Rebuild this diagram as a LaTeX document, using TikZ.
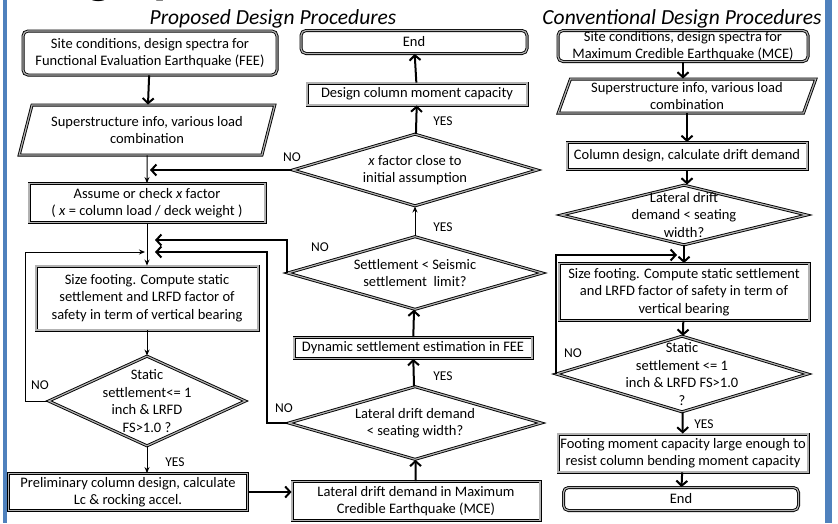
\documentclass[tikz,border=0pt]{standalone}
\usepackage{fontspec}
\setmainfont{Carlito}
\usetikzlibrary{shapes.geometric,arrows.meta}

\definecolor{slideblue}{RGB}{79,129,189}

\tikzset{every picture/.style={line width=0.75pt}}
\tikzset{
  proc/.style={draw, line width=0.9pt, double=gray!60, double distance=1.2pt, fill=white,
    align=center, inner sep=1pt, font=\fontsize{14.5}{17.5}\selectfont},
  term/.style={proc, rounded corners=5pt},
  iobox/.style={proc, trapezium, trapezium left angle=70, trapezium right angle=110, trapezium stretches=true},
  decide/.style={proc, diamond, inner sep=0pt},
  dtext/.style={align=center, font=\fontsize{14.5}{17.5}\selectfont, inner sep=0pt},
  bigflow/.style={line width=2pt, -{Straight Barb[length=5pt,width=11pt]}},
  thinflow/.style={line width=1pt, -{Stealth[length=6pt,width=5pt]}},
  yesno/.style={font=\fontsize{13.5}{15}\selectfont, inner sep=0pt},
  heading/.style={font=\fontsize{21.5}{24}\selectfont\itshape, inner sep=0pt}
}

\begin{document}
\begin{tikzpicture}[x=1pt,y=1pt,yscale=-1,xscale=1]
  \useasboundingbox (0,0) rectangle (838,523);
  %slide edges
  \fill[slideblue] (3,0) rectangle (7,523);
  \fill[slideblue] (825,0) rectangle (832,523);
  \begin{scope}
    \clip (0,0) rectangle (838,523);
    \node[anchor=base west, inner sep=0pt, font=\fontsize{54}{56}\selectfont\bfseries] (title) at (-10,-8) {Design procedures};
  \end{scope}

  \node[heading] (hprop) at (273,19) {Proposed Design Procedures};
  \node[heading] (hconv) at (682,19) {Conventional Design Procedures};

  %Proposed: left column
  \node[term, minimum width=254pt, minimum height=44pt] (site1) at (150,53) {Site conditions, design spectra for\\Functional Evaluation Earthquake (FEE)};
  \node[iobox, minimum width=256pt, minimum height=50pt] (super1) at (147,130) {Superstructure info, various load\\combination};
  \node[proc, minimum width=236pt, minimum height=39pt] (assume) at (147,203) {Assume or check \textit{x} factor\\( \textit{x} = column load / deck weight )};
  \node[proc, minimum width=222pt, minimum height=64pt] (size1) at (147,298) {Size footing. Compute static\\settlement and LRFD factor of\\safety in term of vertical bearing};
  \node[decide, minimum width=197pt, minimum height=90pt,
    label={[dtext]center:Static\\settlement<= 1\\inch \& LRFD\\FS>1.0 ?}] (static1) at (147,401) {};
  \node[proc, minimum width=239pt, minimum height=37pt] (prelim) at (128,492) {Preliminary column design, calculate\\Lc \& rocking accel.};

  %Proposed: middle column
  \node[term, minimum width=226pt, minimum height=23pt] (end1) at (414,42) {End};
  \node[proc, minimum width=220pt, minimum height=22pt] (design) at (417,94) {Design column moment capacity};
  \node[decide, minimum width=245pt, minimum height=72pt,
    label={[dtext]center:\textit{x} factor close to\\initial assumption}] (xfac) at (415,170) {};
  \node[decide, minimum width=255pt, minimum height=73pt,
    label={[dtext]center:Settlement < Seismic\\settlement\ \ limit?}] (settle) at (415,273) {};
  \node[proc, minimum width=238pt, minimum height=21pt] (dyn) at (413,348) {Dynamic settlement estimation in FEE};
  \node[decide, minimum width=253pt, minimum height=73pt,
    label={[dtext]center:Lateral drift demand\\< seating width?}] (lat) at (415,423) {};
  \node[proc, minimum width=248pt, minimum height=39pt] (latmce) at (416,501) {Lateral drift demand in Maximum\\Credible Earthquake (MCE)};

  %Conventional: right column
  \node[term, minimum width=250pt, minimum height=31pt, inner sep=0pt] (site2) at (683,46) {Site conditions, design spectra for\\Maximum Credible Earthquake (MCE)};
  \node[iobox, minimum width=258pt, minimum height=34pt, inner sep=0pt] (super2) at (687,96) {Superstructure info, various load\\combination};
  \node[proc, minimum width=240pt, minimum height=27pt] (coldes) at (687,156) {Column design, calculate drift demand};
  \node[decide, minimum width=246pt, minimum height=60pt,
    label={[dtext]center:Lateral drift\\demand < seating\\width?}] (lat2) at (684,215) {};
  \node[proc, minimum width=250pt, minimum height=57pt, inner sep=0pt] (size2) at (684,292) {Size footing. Compute static settlement\\and LRFD factor of safety in term of\\vertical bearing};
  \node[decide, minimum width=252pt, minimum height=76pt,
    label={[dtext]center:Static\\settlement <= 1\\inch \& LRFD FS>1.0\\?}] (static2) at (682,374) {};
  \node[proc, minimum width=250pt, minimum height=38pt, inner sep=0pt] (footmom) at (683,453) {Footing moment capacity large enough to\\resist column bending moment capacity};
  \node[term, minimum width=235pt, minimum height=23pt] (end2) at (681,499) {End};

  %return points
  \coordinate (back1) at (150,170);
  \coordinate (back2) at (155,240);
  \coordinate (back3) at (155,252);
  \coordinate (back4) at (145,252);
  \coordinate (turn3) at (267,252);
  \coordinate (turn4) at (25,252);
  \coordinate (back5) at (677,255);

  %connectors, proposed
  \draw[bigflow] (site1) -- (super1);
  \draw[thinflow] (super1) -- (assume);
  \draw[thinflow] (assume) -- (size1);
  \draw[thinflow] (size1) -- (static1);
  \draw[thinflow] (static1.south) -- (static1.south |- prelim.north);
  \draw[thinflow] (static1.west) -| (turn4) -- (back4);
  \draw[bigflow] (prelim.east) -- (prelim.east -| latmce.west);
  \draw[bigflow] (latmce) -- (lat);
  \draw[bigflow] (lat) -- (dyn);
  \draw[bigflow] (lat.west) -| (turn3) -- (back3);
  \draw[bigflow] (dyn) -- (settle);
  \draw[thinflow] (settle) -- (xfac);
  \draw[bigflow] (settle.west) |- (back2);
  \draw[bigflow] (xfac) -- (design);
  \draw[bigflow] (xfac.west) -- (back1);
  \draw[bigflow] (design) -- (end1);

  %connectors, conventional
  \draw[bigflow] (site2) -- (site2 |- super2.north);
  \draw[bigflow] (super2.south -| coldes) -- (coldes);
  \draw[bigflow] (coldes) -- (coldes |- lat2.north);
  \draw[bigflow] (lat2) -- (size2);
  \draw[bigflow] (size2) -- (static2);
  \draw[bigflow] (static2) -- (footmom);
  \draw[bigflow] (footmom) -- (end2);
  \draw[bigflow] (static2.west) |- (back5);

  %YES / NO
  \node[yesno] (n1) at (40,385) {NO};
  \node[yesno] (y1) at (175,462) {YES};
  \node[yesno] (n2) at (292,157) {NO};
  \node[yesno] (y2) at (443,121) {YES};
  \node[yesno] (n3) at (320,247) {NO};
  \node[yesno] (y3) at (443,227) {YES};
  \node[yesno] (n4) at (284,408) {NO};
  \node[yesno] (y4) at (443,376) {YES};
  \node[yesno] (n5) at (573,353) {NO};
  \node[yesno] (y5) at (704,424) {YES};
\end{tikzpicture}
\end{document}
